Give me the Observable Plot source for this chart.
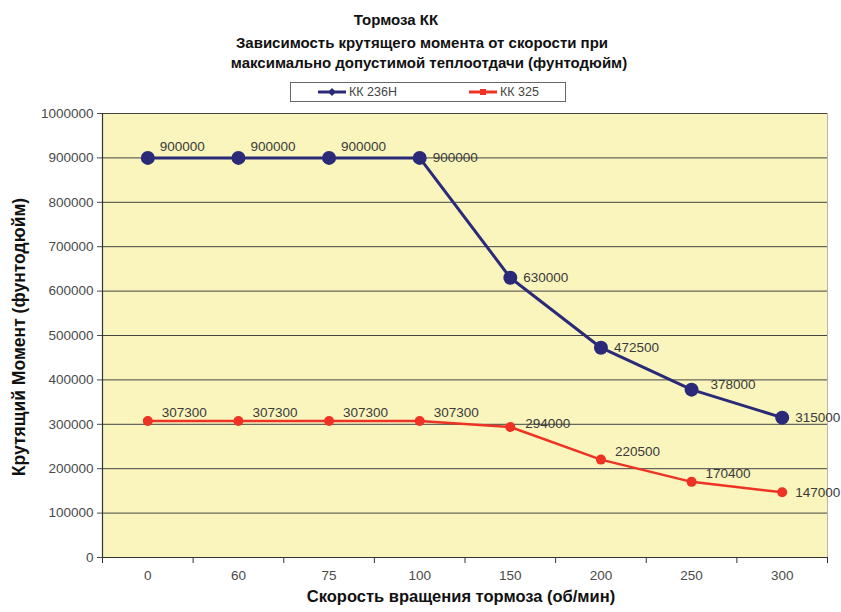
<!DOCTYPE html>
<html><head><meta charset="utf-8">
<script src="https://cdn.jsdelivr.net/npm/d3@7"></script>
<script src="https://cdn.jsdelivr.net/npm/@observablehq/plot@0.6"></script>
<style>
body{margin:0;background:#fff;font-family:"Liberation Sans",Arial,sans-serif;}
#wrap{position:relative;width:841px;height:612px;overflow:hidden;background:#fff;}
.t{position:absolute;transform:translate(-50%,-50%);white-space:nowrap;font-weight:bold;font-size:15px;color:#111;}
#legend{position:absolute;left:290px;top:82px;width:276px;height:20px;border:1px solid #666;box-sizing:border-box;font-size:12.5px;color:#444;background:#fff;}
#legend .item{position:absolute;top:1px;display:flex;align-items:center;height:16px;}
#chart{position:absolute;left:0;top:100px;}
.ylab{position:absolute;left:19px;top:337px;transform:translate(-50%,-50%) rotate(-90deg);white-space:nowrap;font-weight:bold;font-size:17.5px;color:#111;}
.xlab{position:absolute;left:461px;top:596px;transform:translate(-50%,-50%);white-space:nowrap;font-weight:bold;font-size:16.5px;color:#111;}
</style></head>
<body>
<div id="wrap">
  <div class="t" style="left:396px;top:19px;">Тормоза КК</div>
  <div class="t" style="left:422px;top:42px;">Зависимость крутящего момента от скорости при</div>
  <div class="t" style="left:429px;top:62px;">максимально допустимой теплоотдачи (фунтодюйм)</div>
  <div id="legend"></div>
  <div id="chart"></div>
  <div class="ylab">Крутящий Момент (фунтодюйм)</div>
  <div class="xlab">Скорость вращения тормоза (об/мин)</div>
</div>
<script>
// ---- data ----
const speeds = ["0", "60", "75", "100", "150", "200", "250", "300"];
const kk236 = [900000, 900000, 900000, 900000, 630000, 472500, 378000, 315000];
const kk325 = [307300, 307300, 307300, 307300, 294000, 220500, 170400, 147000];
const yTicks = [0, 100000, 200000, 300000, 400000, 500000, 600000, 700000, 800000, 900000, 1000000];
const seriesNames = ["КК 236Н", "КК 325"];

const blueColor = "#2a2a78";
const redColor = "#ee3224";

const rows236 = speeds.map((s, i) => ({i, s, v: kk236[i]}));
const rows325 = speeds.map((s, i) => ({i, s, v: kk325[i]}));
const xIdx = speeds.map((_, i) => i);
const bounds = d3.range(speeds.length + 1).map(k => k - 0.5);
const fmt = d3.format("d");

// legend
const legend = document.getElementById("legend");
[[seriesNames[0], blueColor, 27, 0], [seriesNames[1], redColor, 178, 1]].forEach(([name, col, left, k]) => {
  const it = document.createElement("div");
  it.className = "item";
  it.style.left = left + "px";
  const marker = k === 0
    ? `<polygon points="14,4 18,8 14,12 10,8" fill="${col}"/>`
    : `<rect x="11" y="5" width="6" height="6" fill="${col}"/>`;
  it.innerHTML = `<svg width="30" height="16"><line x1="0" x2="28" y1="8" y2="8" stroke="${col}" stroke-width="3"/>${marker}</svg><span style="margin-left:1px">${name}</span>`;
  legend.appendChild(it);
});

const labelStyle = {fill: "#3a3a3a", fontSize: 13.5, textAnchor: "start", text: d => fmt(d.v)};

const chart = Plot.plot({
  width: 841,
  height: 512,
  marginTop: 13,
  marginBottom: 55,
  marginLeft: 102,
  marginRight: 14,
  style: {fontFamily: "'Liberation Sans', Arial, sans-serif", fontSize: "13.5px", color: "#4a4a4a", background: "transparent"},
  x: {type: "linear", domain: [bounds[0], bounds[bounds.length - 1]], ticks: xIdx, tickFormat: i => speeds[i], tickSize: 0, tickPadding: 13, label: null},
  y: {domain: [0, 1000000], ticks: yTicks, tickFormat: fmt, tickSize: 5, tickPadding: 4, label: null},
  marks: [
    Plot.frame({fill: "#f9f5bd", stroke: "#b8b8a8"}),
    Plot.ruleY(yTicks.filter(v => v > 0), {stroke: "#444", strokeWidth: 1}),
    Plot.ruleY([0], {stroke: "#333", strokeWidth: 1.2}),
    Plot.ruleX([bounds[0]], {stroke: "#333", strokeWidth: 1.2}),
    Plot.ruleX(bounds, {y1: 0, y2: 0, insetTop: 6, stroke: "#333"}),
    // KK 325 (red)
    Plot.line(rows325, {x: "i", y: "v", stroke: redColor, strokeWidth: 2.5}),
    Plot.dot(rows325, {x: "i", y: "v", r: 5, fill: redColor, stroke: "none"}),
    // KK 236H (blue)
    Plot.line(rows236, {x: "i", y: "v", stroke: blueColor, strokeWidth: 3}),
    Plot.dot(rows236, {x: "i", y: "v", r: 7, fill: blueColor, stroke: "none"}),
    // labels
    Plot.text(rows236, {x: "i", y: "v", ...labelStyle, filter: d => d.i < 3, dx: 12, dy: -11}),
    Plot.text(rows236, {x: "i", y: "v", ...labelStyle, filter: d => d.i >= 3 && d.i !== 6, dx: 13, dy: 0}),
    Plot.text(rows236, {x: "i", y: "v", ...labelStyle, filter: d => d.i === 6, dx: 19, dy: -5}),
    Plot.text(rows325, {x: "i", y: "v", ...labelStyle, filter: d => d.i < 7 && d.i !== 4, dx: 14, dy: -8}),
    Plot.text(rows325, {x: "i", y: "v", ...labelStyle, filter: d => d.i === 4, dx: 15, dy: -3}),
    Plot.text(rows325, {x: "i", y: "v", ...labelStyle, filter: d => d.i === 7, dx: 13, dy: 0})
  ]
});
document.getElementById("chart").appendChild(chart);
</script>
</body></html>
